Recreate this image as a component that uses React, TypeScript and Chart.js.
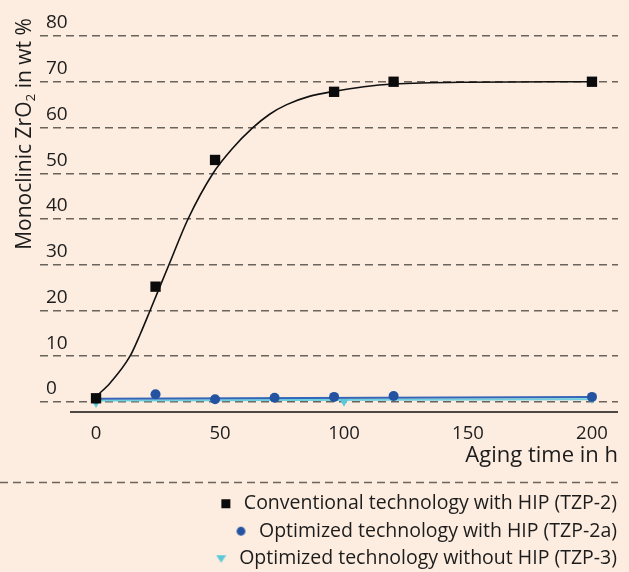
import React, { useEffect, useRef } from "react";
import { Chart, registerables } from "chart.js";

Chart.register(...registerables);

const FONT = "'Open Sans', 'Noto Sans', sans-serif";
const BG = "#fdede0";
const TEXT = "#1c1c1c";
const BLACK = "#0b0b0b";
const BLUE = "#2453a2";
const CYAN = "#5cc9da";

// axis ranges / ticks
const xTickStep = 50;
const yTickValues = [0, 10, 20, 30, 40, 50, 60, 70, 80];
const xMin = -22.6;
const xMax = 210.5;
const yMin = -2.2;
const yMax = 80;
const xAxisLineStart = -10.5;

// Conventional technology with HIP (TZP-2)
const tzp2Hours = [0, 24, 48, 96, 120, 200];
const tzp2Values = [0.8, 25.2, 52.9, 67.8, 70.0, 70.0];

// Optimized technology with HIP (TZP-2a)
const tzp2aHours = [0, 24, 48, 72, 96, 120, 200];
const tzp2aValues = [0.7, 1.7, 0.6, 0.9, 1.1, 1.3, 1.1];

// Optimized technology without HIP (TZP-3)
const tzp3Hours = [0, 100, 200];
const tzp3Values = [-0.2, 0.1, 0.7];

// fitted curve for TZP-2
const fitHours = [0, 5.6, 13.7, 17.8, 21.8, 29.4, 37.1, 47.2, 55, 62.9, 70, 76.9, 86, 96, 108, 120, 150, 200];
const fitValues = [1.2, 4.1, 10, 14.8, 20, 30, 40, 50, 55.4, 59.8, 62.9, 65.0, 66.8, 67.9, 68.9, 69.5, 69.9, 70];

// fitted lines for TZP-2a and TZP-3
const fit2aHours = [0, 200];
const fit2aValues = [0.7, 1.1];
const fit3Hours = [0, 200];
const fit3Values = [0.3, 0.6];

const labels = [
  "Conventional technology with HIP (TZP-2)",
  "Optimized technology with HIP (TZP-2a)",
  "Optimized technology without HIP (TZP-3)",
];

const toPts = (xs: number[], ys: number[]) => xs.map((x, i) => ({ x, y: ys[i] }));

function makeIcon(kind: string): HTMLCanvasElement {
  const c = document.createElement("canvas");
  c.width = 11;
  c.height = 11;
  const g = c.getContext("2d")!;
  if (kind === "rect") {
    g.fillStyle = BLACK;
    g.fillRect(1, 1, 9, 9);
  } else if (kind === "circle") {
    g.fillStyle = BLUE;
    g.beginPath();
    g.arc(5.5, 5.5, 4.4, 0, Math.PI * 2);
    g.fill();
  } else {
    g.fillStyle = CYAN;
    g.beginPath();
    g.moveTo(0.5, 2);
    g.lineTo(10.5, 2);
    g.lineTo(5.5, 9.5);
    g.closePath();
    g.fill();
  }
  return c;
}

const decorPlugin = {
  id: "decor",
  beforeDraw(chart: any) {
    const { ctx, width, height } = chart;
    ctx.save();
    ctx.fillStyle = BG;
    ctx.fillRect(0, 0, width, height);
    ctx.restore();
  },
  beforeDatasetsDraw(chart: any) {
    const { ctx, chartArea, scales } = chart;
    ctx.save();
    ctx.strokeStyle = "#111";
    ctx.lineWidth = 1.4;
    const x0 = scales.x.getPixelForValue(xAxisLineStart);
    const y0 = scales.y.getPixelForValue(yMin);
    ctx.beginPath();
    ctx.moveTo(x0, y0);
    ctx.lineTo(chartArea.right, y0);
    ctx.stroke();
    ctx.restore();
  },
  afterDraw(chart: any) {
    const { ctx, chartArea, legend } = chart;
    // separator dashed line above legend
    ctx.save();
    ctx.strokeStyle = "rgba(70,65,60,0.8)";
    ctx.lineWidth = 1.3;
    ctx.setLineDash([8, 5]);
    const sy = Math.round(legend.top) - 3.5;
    ctx.beginPath();
    ctx.moveTo(0, sy);
    ctx.lineTo(chartArea.right, sy);
    ctx.stroke();
    ctx.restore();

    // y axis title with subscript
    ctx.save();
    ctx.fillStyle = TEXT;
    ctx.translate(25, 134);
    ctx.rotate(-Math.PI / 2);
    const big = `21px ${FONT}`;
    const small = `13.5px ${FONT}`;
    const p1 = "Monoclinic ZrO";
    const p2 = "2";
    const p3 = " in wt %";
    ctx.font = big;
    const w1 = ctx.measureText(p1).width;
    const w3 = ctx.measureText(p3).width;
    ctx.font = small;
    const w2 = ctx.measureText(p2).width;
    const total = w1 + w2 + w3;
    let x = -total / 2;
    ctx.textBaseline = "middle";
    ctx.textAlign = "left";
    ctx.font = big;
    ctx.fillText(p1, x, 0);
    x += w1;
    ctx.font = small;
    ctx.fillText(p2, x, 6.5);
    x += w2;
    ctx.font = big;
    ctx.fillText(p3, x, 0);
    ctx.restore();
  },
};

export default function App() {
  const ref = useRef<HTMLCanvasElement | null>(null);

  useEffect(() => {
    document.body.style.margin = "0";
    document.body.style.background = BG;
    const icons = [makeIcon("rect"), makeIcon("circle"), makeIcon("tri")];
    const canvas = ref.current!;
    const chart = new Chart(canvas, {
      type: "scatter",
      data: {
        datasets: [
          {
            label: labels[0],
            data: toPts(tzp2Hours, tzp2Values),
            showLine: false,
            pointStyle: "rect",
            pointRadius: 7.3,
            pointBackgroundColor: BLACK,
            pointBorderColor: BLACK,
            pointBorderWidth: 0,
            backgroundColor: BLACK,
            borderColor: BLACK,
          },
          {
            label: labels[1],
            data: toPts(tzp2aHours, tzp2aValues),
            showLine: false,
            pointStyle: "circle",
            pointRadius: 5,
            pointBackgroundColor: BLUE,
            pointBorderColor: BLUE,
            pointBorderWidth: 0,
            backgroundColor: BLUE,
            borderColor: BLUE,
          },
          {
            label: labels[2],
            data: toPts(tzp3Hours, tzp3Values),
            showLine: false,
            pointStyle: "triangle",
            pointRotation: 180,
            pointRadius: 5.2,
            pointBackgroundColor: CYAN,
            pointBorderColor: CYAN,
            pointBorderWidth: 0,
            backgroundColor: CYAN,
            borderColor: CYAN,
          },
          {
            label: "fit TZP-2",
            data: toPts(fitHours, fitValues),
            showLine: true,
            pointRadius: 0,
            borderColor: "#111",
            borderWidth: 1.6,
            cubicInterpolationMode: "monotone",
          },
          {
            label: "fit TZP-2a",
            data: toPts(fit2aHours, fit2aValues),
            showLine: true,
            pointRadius: 0,
            borderColor: "#3565b8",
            borderWidth: 2,
          },
          {
            label: "fit TZP-3",
            data: toPts(fit3Hours, fit3Values),
            showLine: true,
            pointRadius: 0,
            borderColor: "#6dd0df",
            borderWidth: 2,
          },
        ],
      },
      options: {
        responsive: false,
        animation: false,
        layout: { padding: { left: 28, right: 4, top: 36, bottom: -6.5 } },
        plugins: {
          tooltip: { enabled: false },
          legend: {
            position: "bottom",
            align: "end",
            labels: {
              generateLabels: (ch: any) =>
                (Chart.defaults.plugins.legend.labels as any)
                  .generateLabels(ch)
                  .filter((item: any) => item.datasetIndex < 3)
                  .map((item: any) => ({
                    ...item,
                    pointStyle: icons[item.datasetIndex],
                    rotation: 0,
                  })),
              usePointStyle: true,
              boxWidth: 16.5,
              boxHeight: 9,
              padding: 8,
              color: TEXT,
              font: { family: FONT, size: 19.5 },
            },
          },
        },
        scales: {
          x: {
            type: "linear",
            min: xMin,
            max: xMax,
            grid: { display: false, drawTicks: false },
            border: { display: false },
            ticks: {
              stepSize: xTickStep,
              includeBounds: false,
              padding: 11,
              color: TEXT,
              font: { family: FONT, size: 18.5 },
            },
            title: {
              display: true,
              text: "Aging time in h",
              align: "end",
              color: TEXT,
              font: { family: FONT, size: 22 },
              padding: { top: -13.4, bottom: 16.8 },
            },
          },
          y: {
            type: "linear",
            min: yMin,
            max: yMax,
            afterBuildTicks: (axis: any) => {
              axis.ticks = yTickValues.map((v) => ({ value: v }));
            },
            grid: {
              drawTicks: false,
              color: "rgba(70,65,60,0.8)",
              lineWidth: 1.4,
            },
            border: { display: false, dash: [8, 5] },
            ticks: {
              mirror: true,
              padding: 6,
              labelOffset: -13,
              color: TEXT,
              font: { family: FONT, size: 19 },
            },
          },
          yRightSpacer: {
            type: "linear",
            position: "right",
            display: true,
            grid: { display: false, drawTicks: false },
            border: { display: false },
            ticks: { display: false },
            afterFit: (axis: any) => {
              axis.width = 7;
            },
          },
        },
      } as any,
      plugins: [decorPlugin],
    });
    return () => chart.destroy();
  }, []);

  return <canvas ref={ref} width={629} height={572} style={{ display: "block" }} />;
}
